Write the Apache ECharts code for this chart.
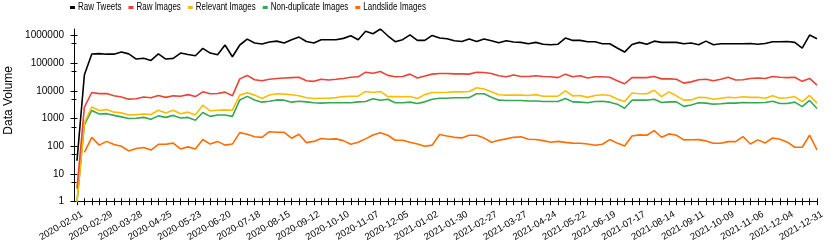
<!DOCTYPE html>
<html>
<head>
<meta charset="utf-8">
<script src="https://cdn.jsdelivr.net/npm/echarts@6/dist/echarts.min.js"></script>
<style>
html,body{margin:0;padding:0;background:#fff;}
#chart{width:831px;height:249px;}
</style>
</head>
<body>
<div id="chart"></div>
<script>
// ---- data ----
const weeks = [
"2020-02-01","2020-02-08","2020-02-15","2020-02-22","2020-02-29","2020-03-07","2020-03-14","2020-03-21","2020-03-28","2020-04-04",
"2020-04-11","2020-04-18","2020-04-25","2020-05-02","2020-05-09","2020-05-16","2020-05-23","2020-05-30","2020-06-06","2020-06-13",
"2020-06-20","2020-06-27","2020-07-04","2020-07-11","2020-07-18","2020-07-25","2020-08-01","2020-08-08","2020-08-15","2020-08-22",
"2020-08-29","2020-09-05","2020-09-12","2020-09-19","2020-09-26","2020-10-03","2020-10-10","2020-10-17","2020-10-24","2020-10-31",
"2020-11-07","2020-11-14","2020-11-21","2020-11-28","2020-12-05","2020-12-12","2020-12-19","2020-12-26","2021-01-02","2021-01-09",
"2021-01-16","2021-01-23","2021-01-30","2021-02-06","2021-02-13","2021-02-20","2021-02-27","2021-03-06","2021-03-13","2021-03-20",
"2021-03-27","2021-04-03","2021-04-10","2021-04-17","2021-04-24","2021-05-01","2021-05-08","2021-05-15","2021-05-22","2021-05-29",
"2021-06-05","2021-06-12","2021-06-19","2021-06-26","2021-07-03","2021-07-10","2021-07-17","2021-07-24","2021-07-31","2021-08-07",
"2021-08-14","2021-08-21","2021-08-28","2021-09-04","2021-09-11","2021-09-18","2021-09-25","2021-10-02","2021-10-09","2021-10-16",
"2021-10-23","2021-10-30","2021-11-06","2021-11-13","2021-11-20","2021-11-27","2021-12-04","2021-12-11","2021-12-18","2021-12-25",
"2021-12-31"];

const rawTweets = [
30,38000,213000,220000,210000,210000,250000,215000,140000,150000,
125000,215000,140000,148000,230000,205000,185000,340000,230000,200000,
450000,170000,450000,735000,530000,490000,575000,620000,530000,700000,
870000,600000,530000,700000,700000,700000,780000,970000,700000,1400000,
1150000,1700000,970000,590000,700000,1050000,660000,660000,1000000,800000,
760000,640000,600000,740000,600000,740000,640000,540000,640000,575000,
560000,500000,560000,480000,460000,480000,800000,660000,660000,590000,
590000,500000,500000,350000,250000,470000,560000,480000,620000,560000,
560000,560000,500000,530000,460000,620000,460000,500000,500000,500000,
500000,510000,480000,510000,590000,590000,600000,560000,350000,1030000,
760000];

const rawImages = [
3,2600,8700,7900,8000,6600,6000,5000,5200,6000,
5600,6800,5800,6600,6400,7300,6200,9200,7800,8000,
9000,6600,27000,36000,25000,23000,26000,28000,29000,30000,
31000,23000,22000,26000,24500,26000,28000,31000,32000,47000,
43000,50000,36000,32000,33000,40000,29000,34000,40000,42000,
42000,41000,41000,40000,47000,46000,42000,35000,32000,37000,
33000,33000,35000,33000,32000,30000,40000,32000,35000,29000,
32000,32000,31000,23000,18000,30000,30000,30000,33000,27000,
27000,26000,19000,21000,25000,26000,23000,26000,31000,24500,
25000,28000,29000,28000,33000,31000,30000,31000,22000,28000,
16000];

const relevantImages = [
1,700,2600,1950,2100,1700,1600,1350,1380,1450,
1400,2000,1600,2000,1500,1700,1350,3000,1900,2000,
2050,2000,7000,8500,7000,5300,7100,7800,7600,7200,
6600,5600,5300,5400,5400,5700,6200,6400,6400,9500,
8700,9500,6200,6200,6100,6200,5300,7300,8700,8700,
8900,9200,9200,9500,13000,11700,9200,7200,7000,7000,
7000,6800,7300,6400,6400,6400,10000,6600,6800,5800,
6800,7200,6800,5100,4100,8300,7800,7800,10500,6200,
9200,6600,4600,4700,5900,5700,5000,5400,5900,5600,
6100,5800,5900,5400,6600,5400,5600,6200,4100,6800,
3600];

const nonDuplicateImages = [
1,600,1950,1450,1500,1300,1150,1000,1030,1100,
950,1250,1100,1300,1050,1100,870,1650,1200,1350,
1350,1200,4700,6300,4700,3900,4200,4700,4600,3900,
4200,4000,3700,3600,3700,3700,3700,3700,4000,4100,
5200,4600,5000,3700,3700,3900,3500,4000,5000,5400,
5400,5600,5600,5700,7800,7800,5900,4600,4500,4500,
4500,4300,4300,4100,4100,4100,5300,4000,3900,3700,
4100,4200,3900,3300,2350,4600,4600,4600,5000,3800,
4000,4000,2750,3100,3700,3600,3300,3400,3600,3600,
3800,3700,3700,3800,4200,3500,3500,3900,2700,4500,
2300];

const landslideImages = [
null,60,210,110,150,115,100,68,83,90,
73,118,118,130,80,95,80,175,120,150,
110,120,310,270,220,210,335,320,320,195,
270,135,150,190,180,185,160,118,140,185,
255,310,250,165,165,140,120,100,110,265,
235,210,200,250,250,200,140,165,185,210,
220,180,175,160,140,150,138,130,128,120,
109,118,174,130,102,236,257,250,368,211,
279,250,170,172,174,156,128,128,147,147,
224,121,170,132,198,179,140,92,92,250,
74];

const seriesNames = ["Raw Tweets","Raw Images","Relevant Images","Non-duplicate Images","Landslide Images"];
const seriesColors = ["#000000","#EA4335","#FBBC04","#34A853","#FF6D01"];
const yMajorTicks = [1,10,100,1000,10000,100000,1000000];
const yMinorTicks = [5,50,500,5000,50000,500000];
const yTitle = "Data Volume";

// ---- chart ----
const seriesData = [rawTweets, rawImages, relevantImages, nonDuplicateImages, landslideImages];
const yMax = Math.max.apply(null, rawTweets);
const FONT = "'Liberation Sans', Arial, sans-serif";

function yAx(ticks, inside, len, showLine, showLabel) {
  return {
    type: 'log', logBase: 10, min: 1, max: yMax, position: 'left', offset: 3,
    axisLine: {show: showLine, lineStyle: {color: '#000', width: 1}},
    axisTick: {show: true, inside: inside, length: len, customValues: ticks, lineStyle: {color: '#000', width: 1}},
    axisLabel: {show: showLabel, customValues: ticks, fontSize: 10, color: '#000', fontFamily: FONT, margin: 10,
      formatter: function (v) { return String(v); }},
    splitLine: {show: false}
  };
}
function xAx(inside, showLine, showLabel) {
  return {
    type: 'category', data: weeks, boundaryGap: false, position: 'bottom',
    axisLine: {show: showLine, lineStyle: {color: '#000', width: 1}},
    axisTick: {show: true, inside: inside, interval: 0, length: 3.5, lineStyle: {color: '#000', width: 1}},
    axisLabel: {show: showLabel, interval: 3, rotate: 30, fontSize: 9.5, color: '#000', fontFamily: FONT,
      margin: 15, padding: [0, -6, 0, 0]},
    splitLine: {show: false}
  };
}

// legend drawn as graphic (condensed text)
const measureCtx = document.createElement('canvas').getContext('2d');
measureCtx.font = "10.5px 'Liberation Sans'";
const LEG_SCALE = 0.76;
const legendEls = [];
let lx = 70;
seriesNames.forEach(function (n, k) {
  legendEls.push({type: 'rect', shape: {x: lx, y: 6, width: 5, height: 3}, style: {fill: seriesColors[k]}});
  legendEls.push({type: 'text', x: lx + 8, y: 7.5, scaleX: LEG_SCALE,
    style: {text: n, fontSize: 10.5, fontFamily: FONT, fill: '#000', verticalAlign: 'middle', align: 'left'}});
  lx += 8 + measureCtx.measureText(n).width * LEG_SCALE + 7;
});

const chart = echarts.init(document.getElementById('chart'), null, {renderer: 'canvas'});
chart.setOption({
  animation: false,
  backgroundColor: '#fff',
  grid: {left: 77, right: 14, top: 29, bottom: 47.3, containLabel: false},
  graphic: legendEls.concat([{
    type: 'text', left: 3, top: 66, rotation: Math.PI / 2,
    style: {text: yTitle, fontSize: 12, fontFamily: FONT, fill: '#000'}
  }]),
  xAxis: [xAx(false, true, true), xAx(true, false, false)],
  yAxis: [
    yAx(yMajorTicks, false, 3.5, true, true),
    yAx(yMajorTicks, true, 3.5, false, false),
    yAx(yMinorTicks, false, 2.5, false, false),
    yAx(yMinorTicks, true, 2.5, false, false)
  ],
  series: seriesData.map(function (d, k) { return {
    name: seriesNames[k], type: 'line', data: d, xAxisIndex: 0, yAxisIndex: 0,
    symbol: 'none', showSymbol: false, connectNulls: false,
    lineStyle: {color: seriesColors[k], width: 1.6},
    itemStyle: {color: seriesColors[k]},
    z: 10 - k
  }; })
});
</script>
</body>
</html>
